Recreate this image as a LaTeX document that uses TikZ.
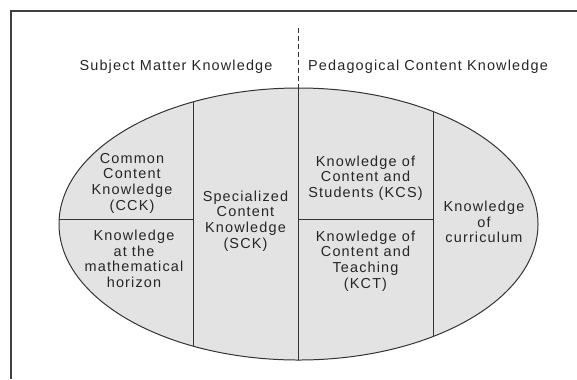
\documentclass[tikz,border=0pt]{standalone}
\usepackage{fontspec}
\setmainfont{Liberation Sans}[LetterSpace=8]
\usetikzlibrary{positioning, shapes.geometric}

\begin{document}
\begin{tikzpicture}[x=1bp, y=-1bp,
    txt/.style={align=center, font=\fontsize{14.5}{15.7}\selectfont,
                text=black!85, inner sep=0pt},
    rule/.style={draw=black!80, line width=1pt},
    oval/.style={ellipse, draw=black!80, line width=1pt, fill=black!11,
                 minimum width=479bp, minimum height=272bp, inner sep=0pt},
]
\useasboundingbox (0,0) rectangle (577,379);
% outer frame, open at right and bottom
\draw[black!75, line width=1.6pt] (11,379) -- (11,11) -- (577,11);

\node[oval] (mkt) at (298.5,224) {};
\begin{scope}
  \clip (mkt.center) ellipse [x radius=239.5bp, y radius=136bp];
  \draw[rule] (193,80) -- (193,370);
  \draw[rule] (298.5,80) -- (298.5,370);
  \draw[rule] (433,80) -- (433,370);
  \draw[rule] (40,219) -- (193,219);
  \draw[rule] (298.5,219) -- (433,219);
\end{scope}

\coordinate (divtop) at (298.5,28);
\draw[black!80, line width=1pt, dash pattern=on 5bp off 3bp] (divtop) -- (mkt.north);

\node[txt] (smk) at (176,67) {Subject Matter Knowledge};
\node[txt] (pck) at (428,67) {Pedagogical Content Knowledge};

\node[txt] (cck) at (132,183) {Common\\Content\\Knowledge\\(CCK)};
\node[txt] (hor) at (134,259) {Knowledge\\at the\\mathematical\\horizon};
\node[txt] (sck) at (245.5,221) {Specialized\\Content\\Knowledge\\(SCK)};
\node[txt] (kcs) at (365.5,178) {Knowledge of\\Content and\\Students (KCS)};
\node[txt] (kct) at (365.5,261) {Knowledge of\\Content and\\Teaching\\(KCT)};
\node[txt] (kcc) at (484,222) {Knowledge\\of\\curriculum};
\end{tikzpicture}
\end{document}
